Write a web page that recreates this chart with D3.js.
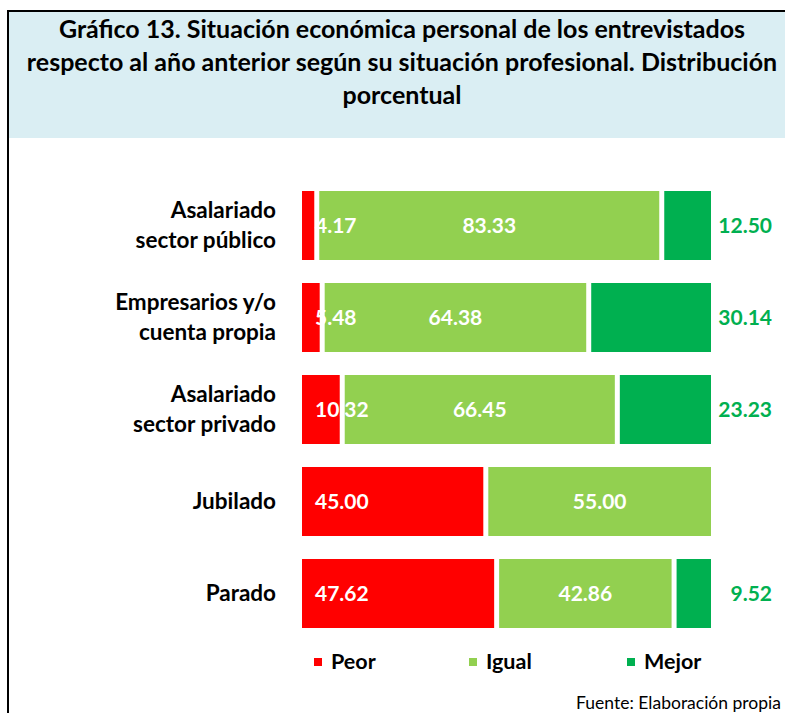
<!DOCTYPE html>
<html>
<head>
<meta charset="utf-8">
<script src="https://cdn.jsdelivr.net/npm/d3@7"></script>
<style>
  html, body { margin: 0; padding: 0; background: #fff; }
  svg { display: block; }
  text { font-family: Lato, "Open Sans", sans-serif; }
</style>
</head>
<body>
<script>
// ---- data ----
const titleLines = [
  "Gráfico 13. Situación económica personal de los entrevistados",
  "respecto al año anterior según su situación profesional. Distribución",
  "porcentual"
];
const categories = [
  ["Asalariado", "sector público"],
  ["Empresarios y/o", "cuenta propia"],
  ["Asalariado", "sector privado"],
  ["Jubilado"],
  ["Parado"]
];
const seriesNames = ["Peor", "Igual", "Mejor"];
const peor  = [4.17, 5.48, 10.32, 45.00, 47.62];
const igual = [83.33, 64.38, 66.45, 55.00, 42.86];
const mejor = [12.50, 30.14, 23.23, 0, 9.52];
const colors = ["#FF0000", "#92D050", "#00B050"];
const source = "Fuente: Elaboración propia";

// ---- build ----
const W = 785, H = 713;
const svg = d3.select("body").append("svg").attr("width", W).attr("height", H);

// frame & title box
svg.append("rect").attr("x", 9).attr("y", 12).attr("width", W - 9).attr("height", 126).attr("fill", "#DAEEF3");
svg.append("line").attr("x1", 7).attr("x2", W).attr("y1", 11).attr("y2", 11).attr("stroke", "#000").attr("stroke-width", 2);
svg.append("line").attr("x1", 8).attr("x2", 8).attr("y1", 10).attr("y2", H).attr("stroke", "#000").attr("stroke-width", 2);

svg.append("g").selectAll("text").data(titleLines).join("text")
  .attr("x", 402).attr("y", (d, i) => 38 + i * 33)
  .attr("text-anchor", "middle")
  .attr("font-weight", "bold").attr("font-size", 25).attr("fill", "#000")
  .text(d => d);

const rows = categories.map((c, i) => ({ idx: i, Peor: peor[i], Igual: igual[i], Mejor: mejor[i] }));
const stacked = d3.stack().keys(seriesNames)(rows);

const x = d3.scaleLinear().domain([0, 100]).range([302, 716]);
const y = d3.scaleBand().domain(d3.range(categories.length)).range([179.5, 639.5])
  .paddingInner(0.25).paddingOuter(0.125);
const gap = 5;

const layers = svg.append("g").selectAll("g").data(stacked).join("g")
  .attr("fill", (d, i) => colors[i]);
layers.selectAll("rect").data(d => d).join("rect")
  .attr("x", d => x(d[0]))
  .attr("y", d => y(d.data.idx))
  .attr("width", d => Math.max(0, x(d[1]) - x(d[0]) - gap))
  .attr("height", y.bandwidth());

// value labels
const lbl = svg.append("g").attr("font-weight", "bold").attr("font-size", 21);
const cy = i => y(i) + y.bandwidth() / 2;
lbl.selectAll("text.peor").data(rows).join("text").attr("class", "peor")
  .attr("x", x(0) + 13).attr("y", d => cy(d.idx)).attr("dy", "0.36em")
  .attr("fill", "#fff").text(d => d.Peor.toFixed(2));
lbl.selectAll("text.igual").data(rows).join("text").attr("class", "igual")
  .attr("x", d => (x(d.Peor) + x(d.Peor + d.Igual) - gap) / 2).attr("y", d => cy(d.idx)).attr("dy", "0.36em")
  .attr("text-anchor", "middle").attr("fill", "#fff").text(d => d.Igual.toFixed(2));
lbl.selectAll("text.mejor").data(rows.filter(d => d.Mejor > 0)).join("text").attr("class", "mejor")
  .attr("x", 772).attr("y", d => cy(d.idx)).attr("dy", "0.36em")
  .attr("text-anchor", "end").attr("fill", "#00B050").text(d => d.Mejor.toFixed(2));

// category labels
const cat = svg.append("g").attr("font-weight", "bold").attr("font-size", 22.5).attr("fill", "#000")
  .attr("text-anchor", "end");
categories.forEach((lines, i) => {
  const t = cat.append("text").attr("x", 276);
  const n = lines.length;
  lines.forEach((s, j) => {
    t.append("tspan").attr("x", 276)
      .attr("y", cy(i) + (j - (n - 1) / 2) * 30 + 7.5)
      .text(s);
  });
});

// legend
const legX = [314, 469, 627];
const leg = svg.append("g").selectAll("g").data(seriesNames).join("g")
  .attr("transform", (d, i) => `translate(${legX[i]},658)`);
leg.append("rect").attr("width", 8).attr("height", 8).attr("fill", (d, i) => colors[i]);
leg.append("text").attr("x", 17).attr("y", 11).attr("font-weight", "bold").attr("font-size", 21.5)
  .attr("fill", "#000").text(d => d);

// source
svg.append("text").attr("x", 781).attr("y", 708.5).attr("text-anchor", "end")
  .attr("font-size", 17.5).attr("fill", "#000").text(source);
</script>
</body>
</html>
